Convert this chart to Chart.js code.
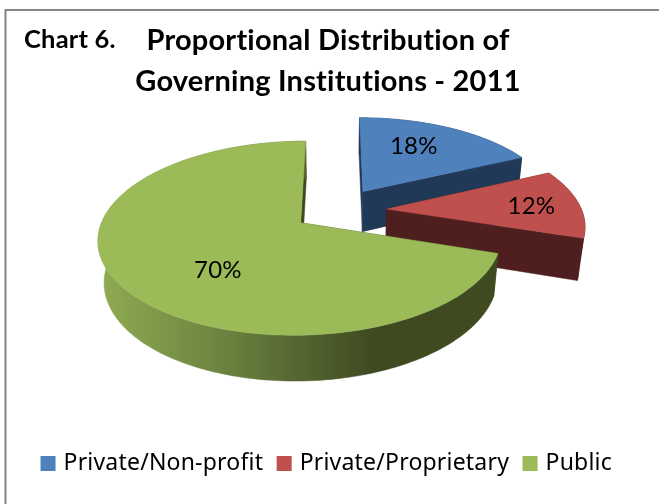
<!DOCTYPE html>
<html>
<head>
<meta charset="utf-8">
<style>html,body{margin:0;padding:0;background:#fff}canvas{display:block}</style>
<script src="https://cdn.jsdelivr.net/npm/chart.js@4/dist/chart.umd.min.js"></script>
</head>
<body>
<canvas id="chart" width="659" height="504"></canvas>
<script>
// Shares of governing institutions, 2011
const categories = ['Private/Non-profit', 'Private/Proprietary', 'Public'];
const shares = [18, 12, 70];
const topColors = ['#4f81bd', '#c0504d', '#9bbb59'];
const wallColors = ['#203956', '#4e1f1e', '#3f4a21'];
const titleLines = ['Proportional Distribution of', 'Governing Institutions - 2011'];
const chartTag = 'Chart 6.';

// Where each percentage sits inside its slice: [fraction along the slice's sweep, fraction of the radius]
const labelSpots = [[0.426, 0.66], [0.52, 0.75], [0.44, 0.592]];

// Oblique camera for the tilted pie
const view = { x0: 337, y0: 210.5, tilt: 0.465, persp: 0.0008, depth: 42, depthPersp: 0.025 };
const DISC_RADIUS = 195;
const EXPLODE = [200, 200, 176];   // Chart.js draws arc offsets at a quarter of these values

function project(x, y, lowered) {
  const w = 1 - view.persp * y + (lowered ? view.depthPersp : 0);
  return [view.x0 + x / w, view.y0 + (view.tilt * y + (lowered ? view.depth : 0)) / w];
}

// Slice geometry in disc coordinates, taken from the library's arc element
function sliceFrame(arc) {
  const mid = (arc.startAngle + arc.endAngle) / 2;
  const shift = arc.options.offset / 4;
  return {
    ax: Math.cos(mid) * shift,
    ay: Math.sin(mid) * shift,
    r: arc.outerRadius,
    start: arc.startAngle,
    end: arc.endAngle
  };
}

function rimPoints(f, from, to, lowered) {
  const n = Math.max(2, Math.ceil(Math.abs(to - from) / 0.02));
  const pts = [];
  for (let i = 0; i <= n; i++) {
    const t = from + (to - from) * i / n;
    pts.push(project(f.ax + f.r * Math.cos(t), f.ay + f.r * Math.sin(t), lowered));
  }
  return pts;
}

function fillPoly(ctx, pts, fill) {
  ctx.beginPath();
  pts.forEach((p, i) => i ? ctx.lineTo(p[0], p[1]) : ctx.moveTo(p[0], p[1]));
  ctx.closePath();
  ctx.fillStyle = fill;
  ctx.fill();
  ctx.strokeStyle = fill;
  ctx.lineWidth = 0.5;
  ctx.stroke();
}

function cutFace(ctx, f, angle, fill) {
  const edgeX = f.ax + f.r * Math.cos(angle), edgeY = f.ay + f.r * Math.sin(angle);
  fillPoly(ctx, [
    project(f.ax, f.ay, false), project(edgeX, edgeY, false),
    project(edgeX, edgeY, true), project(f.ax, f.ay, true)
  ], fill);
}

// A small tracking value keeps the browser from forming "ti" ligatures
function setTracking(chart) {
  chart.ctx.letterSpacing = '0.2px';
}

const tiltedPie = {
  id: 'tiltedPie',
  beforeLayout: setTracking,
  beforeDraw: setTracking,
  beforeDatasetDraw(chart) {
    const ctx = chart.ctx;
    const arcs = chart.getDatasetMeta(0).data;
    arcs.forEach((arc, i) => {
      const f = sliceFrame(arc);
      let wallFill = wallColors[i];
      if (i === 2) {
        const g = ctx.createLinearGradient(100, 0, 372, 0);
        g.addColorStop(0, '#8fab52');
        g.addColorStop(0.45, '#6b8340');
        g.addColorStop(1, '#3f4a21');
        wallFill = g;
      }
      cutFace(ctx, f, f.start, wallColors[i]);
      cutFace(ctx, f, f.end, wallColors[i]);
      const from = Math.max(f.start, -Math.PI / 2);
      const upper = rimPoints(f, from, f.end, false);
      const lower = rimPoints(f, f.end, from, true);
      fillPoly(ctx, upper.concat(lower), wallFill);
      fillPoly(ctx, [project(f.ax, f.ay, false)].concat(rimPoints(f, f.start, f.end, false)), topColors[i]);
    });
    return false;
  },
  afterDatasetsDraw(chart) {
    const ctx = chart.ctx;
    ctx.save();
    ctx.fillStyle = '#000';
    ctx.font = '24px "Lato"';
    ctx.textAlign = 'center';
    ctx.textBaseline = 'middle';
    chart.getDatasetMeta(0).data.forEach((arc, i) => {
      const f = sliceFrame(arc);
      const t = f.start + (f.end - f.start) * labelSpots[i][0];
      const rr = f.r * labelSpots[i][1];
      const p = project(f.ax + rr * Math.cos(t), f.ay + rr * Math.sin(t), false);
      ctx.fillText(shares[i] + '%', p[0], p[1]);
    });
    ctx.restore();
  },
  afterDraw(chart) {
    const ctx = chart.ctx;
    ctx.save();
    // Frame: only the top and left edges show
    ctx.strokeStyle = '#868686';
    ctx.lineWidth = 2;
    ctx.beginPath();
    ctx.moveTo(5.5, 504);
    ctx.lineTo(5.5, 10);
    ctx.lineTo(659, 10);
    ctx.stroke();
    ctx.fillStyle = '#000';
    ctx.font = 'bold 25.5px "Lato"';
    ctx.textAlign = 'left';
    ctx.textBaseline = 'alphabetic';
    ctx.fillText(chartTag, 24, 48);
    ctx.restore();
  }
};

new Chart(document.getElementById('chart'), {
  type: 'pie',
  plugins: [tiltedPie],
  data: {
    labels: categories,
    datasets: [{
      data: shares,
      backgroundColor: topColors,
      borderWidth: 0,
      offset: EXPLODE,
      hoverOffset: 0
    }]
  },
  options: {
    responsive: false,
    animation: false,
    events: [],
    radius: DISC_RADIUS,
    layout: { padding: { bottom: 19, right: 3 } },
    plugins: {
      tooltip: { enabled: false },
      title: {
        display: true,
        text: titleLines,
        color: '#000',
        font: { family: 'Lato', size: 29, weight: 'bold', lineHeight: 1.41 },
        padding: { top: 20, bottom: 0 }
      },
      legend: {
        position: 'bottom',
        labels: {
          boxWidth: 8,
          boxHeight: 8,
          padding: 17,
          color: '#111',
          font: { family: 'Noto Sans', size: 23 },
          // Swatches get a thick same-coloured outline so they read as 15px squares close to the text
          generateLabels(chart) {
            return categories.map((name, i) => ({
              text: name,
              fillStyle: topColors[i],
              strokeStyle: topColors[i],
              lineWidth: 7,
              hidden: false,
              index: i
            }));
          }
        }
      }
    }
  }
});
</script>
</body>
</html>
